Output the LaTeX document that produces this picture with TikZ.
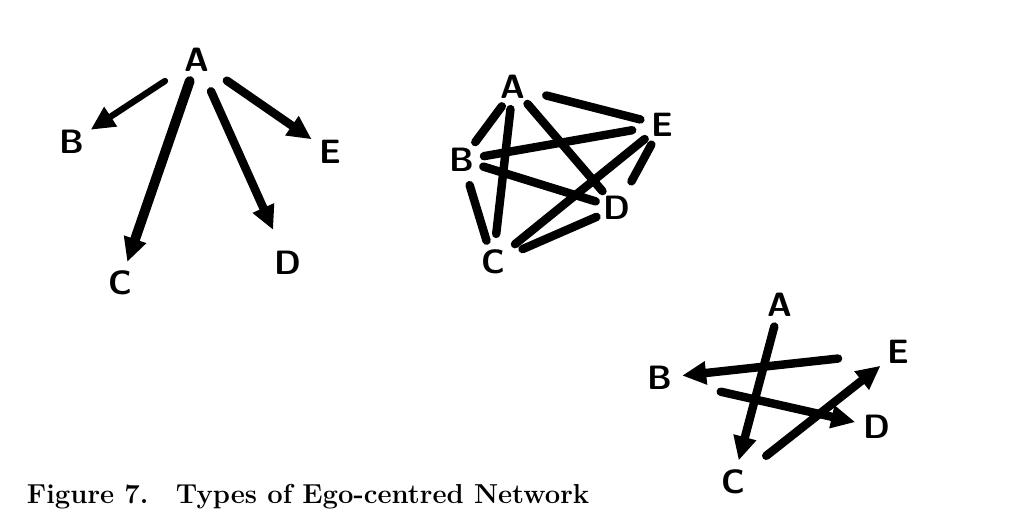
\documentclass[tikz,border=0pt]{standalone}
\usetikzlibrary{arrows.meta}
\begin{document}
\begin{tikzpicture}[
      x=0.025cm, y=-0.025cm,
      person/.style={circle, inner sep=0pt, minimum size=1.1cm,
                     font=\fontsize{24}{26}\selectfont\sffamily\bfseries},
      tie/.style={line width=6pt, line cap=round},
      arrow/.style={tie, -{Triangle[length=6mm, width=5.5mm]}}
    ]
    \useasboundingbox (0,0) rectangle (1032,517);
    % star: ego points to each alter
    \node[person] (a1) at (197,60) {A};
    \node[person] (b1) at (72,142) {B};
    \node[person] (c1) at (120,283) {C};
    \node[person] (d1) at (288,263) {D};
    \node[person] (e1) at (330,152) {E};
    \draw[arrow, line width=4.5pt, shorten <=0.4cm] (a1) -- (b1);
    \draw[arrow, shorten <=0.35cm] (a1) -- (e1);
    \draw[arrow, line width=7pt] (a1) -- (c1);
    \draw[arrow, shorten <=0.3cm, shorten >=0.35cm] (a1) -- (d1);
    % complete graph
    \node[person] (a2) at (513,87) {A};
    \node[person] (b2) at (462,160) {B};
    \node[person] (c2) at (493,262) {C};
    \node[person] (d2) at (617,208) {D};
    \node[person] (e2) at (662,125) {E};
    \draw[tie] (a2.-120) -- (b2);
    \draw[tie, shorten <=0.3cm] (a2) -- (e2);
    \draw[tie, shorten >=0.15cm] (a2) -- (c2);
    \draw[tie] (a2) -- (d2);
    \draw[tie, shorten >=0.2cm] (b2) -- (e2);
    \draw[tie] (b2) -- (d2);
    \draw[tie, shorten <=0.1cm] (b2) -- (c2);
    \draw[tie, shorten >=0.15cm] (e2) -- (c2);
    \draw[tie, shorten >=0.2cm] (e2) -- (d2);
    \draw[tie, shorten <=0.25cm] (c2) -- (d2);
    % chain of arrows
    \node[person] (a3) at (780,305) {A};
    \node[person] (b3) at (660,378) {B};
    \node[person] (c3) at (733,482) {C};
    \node[person] (d3) at (877,427) {D};
    \node[person] (e3) at (898,352) {E};
    \draw[arrow] (a3) -- (c3);
    \draw[arrow, shorten <=0.95cm] (e3) -- (b3);
    \draw[arrow, shorten <=1cm] (b3) -- (d3);
    \draw[arrow, shorten <=0.5cm] (c3) -- (e3);
    \node[anchor=base west, font=\fontsize{19.5}{22}\selectfont\bfseries] (caption)
      at (22,503) {Figure 7.\quad Types of Ego-centred Network};
  \end{tikzpicture}
\end{document}
